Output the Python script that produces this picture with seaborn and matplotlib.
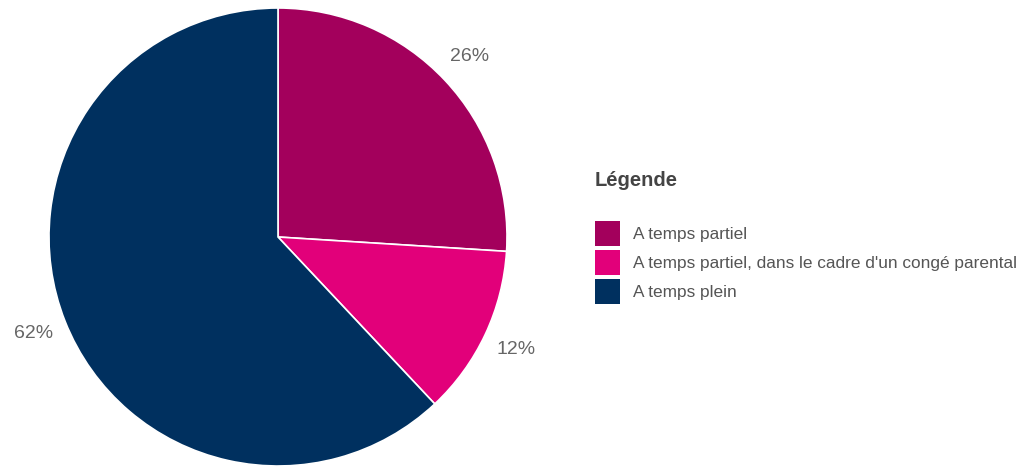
import matplotlib
matplotlib.use("Agg")
import matplotlib.pyplot as plt
import seaborn as sns
from matplotlib.patches import Patch, Rectangle
from matplotlib.legend_handler import HandlerPatch

categories = ["A temps partiel",
              "A temps partiel, dans le cadre d'un congé parental",
              "A temps plein"]
values = [26, 12, 62]
pct_labels = ["26%", "12%", "62%"]
colors = ["#A3005C", "#E2007A", "#00305F"]

sns.set_theme(style="white")
plt.rcParams['font.family'] = ['Liberation Sans', 'DejaVu Sans']

W, H = 1018, 467
fig = plt.figure(figsize=(W / 100, H / 100), dpi=100)
cx, cy, r = 278, 237, 229
ax = fig.add_axes([(cx - r) / W, (H - cy - r) / H, 2 * r / W, 2 * r / H])
palette = sns.color_palette(colors)
wedges, texts = ax.pie(values, labels=pct_labels, colors=palette, startangle=90,
                       counterclock=False, radius=1, labeldistance=1.15,
                       wedgeprops=dict(edgecolor="white", linewidth=1.2),
                       textprops=dict(color="#666666", fontsize=14))
for t in texts:
    t.set_ha("center")
    t.set_va("center")
ax.set_xlim(-1, 1)
ax.set_ylim(-1, 1)
ax.set_aspect("equal")
ax.axis("off")


def square(legend, orig_handle, xdescent, ydescent, width, height, fontsize):
    c = -ydescent + height / 2
    return Rectangle((-xdescent, c - width / 2), width, width)


fig.text(595 / W, 1 - 180 / H, "Légende", fontsize=14.5, fontweight="bold",
         color="#444444", ha="left", va="center")
handles = [Patch(facecolor=c, edgecolor="none") for c in palette]
fig.legend(handles, categories, loc="upper left",
           bbox_to_anchor=(595 / W, 1 - 223 / H), frameon=False,
           borderpad=0, borderaxespad=0, fontsize=12.4,
           handlelength=1.45, handleheight=1.45, labelspacing=0.5,
           handletextpad=0.75, labelcolor="#555555",
           handler_map={Patch: HandlerPatch(patch_func=square)})

fig.savefig("out.png", dpi=100, facecolor="white")
